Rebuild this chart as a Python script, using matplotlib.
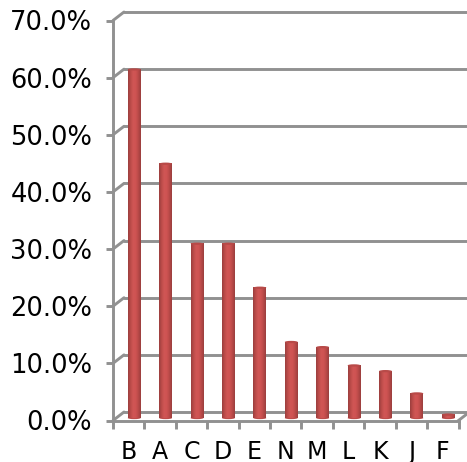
import numpy as np
from matplotlib import pyplot as plt
from matplotlib.colors import LinearSegmentedColormap
from matplotlib.patches import Ellipse
from matplotlib.transforms import Affine2D

categories = ["B", "A", "C", "D", "E", "N", "M", "L", "K", "J", "F"]
values = [61.0, 44.5, 30.5, 30.5, 22.8, 13.3, 12.4, 9.2, 8.2, 4.3, 0.6]
y_ticks = [0, 10, 20, 30, 40, 50, 60, 70]
y_labels = ["0.0%", "10.0%", "20.0%", "30.0%", "40.0%", "50.0%", "60.0%", "70.0%"]

W, H = 467, 462
GRAY = "#919191"
LW = 2.1

fig = plt.figure(figsize=(W / 100, H / 100), dpi=100)
ax = fig.add_axes([113 / W, (H - 420.5) / H, 345.5 / W, 400 / H])
ax.set_xlim(-0.5, 10.5)
ax.set_ylim(0, 70)

# back wall sits up and to the right of the front plane (pixels)
wall = ax.transData + Affine2D().translate(11, 8.5)
mid = ax.transData + Affine2D().translate(5.5, 2.5)

for t in y_ticks:
    ax.plot([-0.5, 10.8], [t, t], color=GRAY, lw=LW, transform=wall, clip_on=False,
            solid_capstyle="round", zorder=1)
    ax.plot([-0.5, -0.5 + 11 / 31.4], [t, t + 8.5 / 5.714], color=GRAY, lw=LW,
            clip_on=False, solid_capstyle="round", zorder=1)
# right end of the floor
ax.plot([10.5, 10.5 + 11 / 31.4], [0, 8.5 / 5.714], color=GRAY, lw=LW, clip_on=False, zorder=1)

cmap = LinearSegmentedColormap.from_list(
    "cyl", ["#9c3f3e", "#bd4c4a", "#d05655", "#cf5453", "#ba4a48", "#9c3f3e"])
shade = np.linspace(0, 1, 32).reshape(1, -1)
bar_w = 0.41
cap_h = 0.4

for i, v in enumerate(values):
    ax.add_patch(Ellipse((i, 0), bar_w, cap_h, fc="#bd4c4a", ec="none", transform=mid,
                         clip_on=False, zorder=3))
    ax.imshow(shade, cmap=cmap, aspect="auto", extent=(i - bar_w / 2, i + bar_w / 2, 0, v),
              transform=mid, clip_on=False, zorder=3, interpolation="bilinear")
    ax.add_patch(Ellipse((i, v), bar_w, cap_h, fc="#b84a48", ec="none", transform=mid,
                         clip_on=False, zorder=4))

ax.set_xlim(-0.5, 10.5)
ax.set_ylim(0, 70)
ax.set_xticks(np.arange(-0.5, 11, 1))
ax.set_xticklabels([])
ax.set_xticks(range(len(categories)), labels=categories, minor=True)
ax.set_yticks(y_ticks, labels=y_labels)
ax.tick_params(axis="x", which="major", length=5.5, width=LW, color=GRAY)
ax.tick_params(axis="x", which="minor", length=0, pad=14, labelsize=17)
ax.tick_params(axis="y", length=5, width=LW, color=GRAY, pad=10, labelsize=18.5)
for s in ["top", "right"]:
    ax.spines[s].set_visible(False)
for s in ["left", "bottom"]:
    ax.spines[s].set_color(GRAY)
    ax.spines[s].set_linewidth(LW)
    ax.spines[s].set_zorder(2)
ax.patch.set_visible(False)

fig.savefig("out.png", dpi=100)
